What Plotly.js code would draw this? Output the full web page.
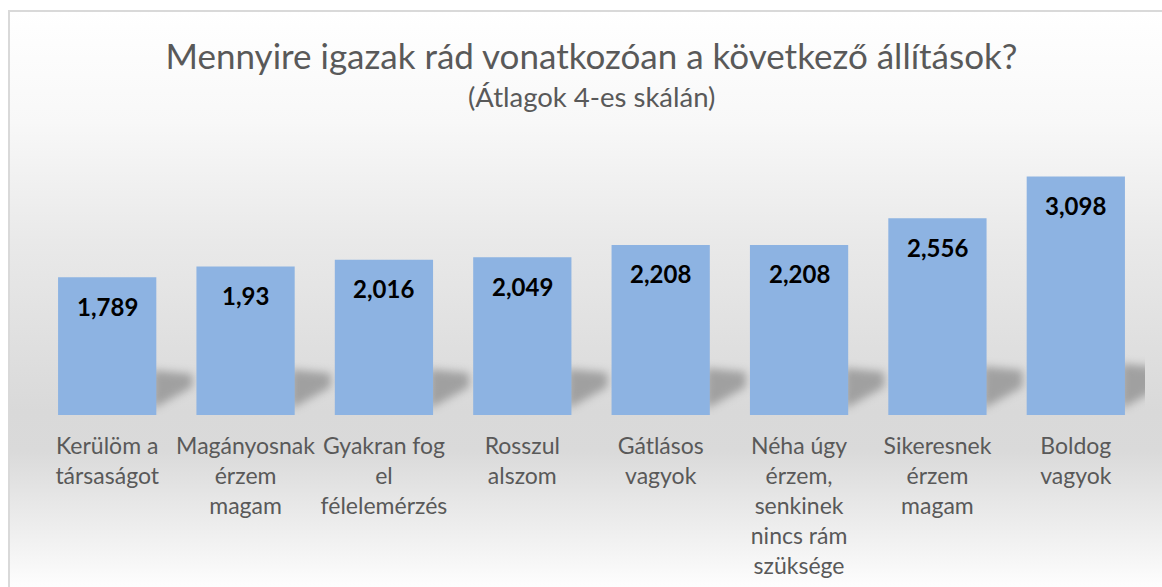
<!DOCTYPE html>
<html>
<head>
<meta charset="utf-8">
<script src="https://cdn.plot.ly/plotly-3.0.1.min.js"></script>
<style>
  html, body { margin: 0; padding: 0; background: #ffffff; overflow: hidden; width: 1162px; height: 587px; }
  #frame {
    position: absolute; left: 8px; top: 10px; width: 1154px; height: 577px;
    border-left: 2px solid #d9d9d9; border-top: 2px solid #d9d9d9;
    background: linear-gradient(to bottom, #ffffff 0px, #f8f8f8 110px, #e9e9e9 230px, #d9d9d9 400px, #dadada 440px, #f4f4f4 540px, #ffffff 580px);
  }
  #chart { position: absolute; left: 0; top: 0; width: 1162px; height: 587px; }
</style>
</head>
<body>
<div id="frame"></div>
<div id="chart"></div>
<script>
const categories = [
  "Kerülöm a<br>társaságot",
  "Magányosnak<br>érzem<br>magam",
  "Gyakran fog<br>el<br>félelemérzés",
  "Rosszul<br>alszom",
  "Gátlásos<br>vagyok",
  "Néha úgy<br>érzem,<br>senkinek<br>nincs rám<br>szüksége",
  "Sikeresnek<br>érzem<br>magam",
  "Boldog<br>vagyok"
];
const values = [1.789, 1.93, 2.016, 2.049, 2.208, 2.208, 2.556, 3.098];
const valueLabels = values.map(v => String(v).replace('.', ','));
const chartTitle = "Mennyire igazak rád vonatkozóan a következő állítások?";
const chartSubtitle = "(Átlagok 4-es skálán)";

const FONT = "Lato, 'Open Sans', sans-serif";
const BAR_COLOR = "#8db3e2";
const barWidth = 0.71;

const trace = {
  type: "bar",
  x: categories,
  y: values,
  width: barWidth,
  marker: { color: BAR_COLOR, line: { width: 0 } },
  hoverinfo: "skip",
  showlegend: false
};

const annotations = values.map((v, i) => ({
  x: categories[i], y: v, xref: "x", yref: "y",
  text: "<b>" + valueLabels[i] + "</b>",
  showarrow: false, yanchor: "middle", yshift: -29,
  font: { family: FONT, size: 24, color: "#000000" }
}));
annotations.push({
  text: chartSubtitle, xref: "paper", yref: "paper", x: 0.5, y: 1.178,
  yanchor: "middle", showarrow: false,
  font: { family: FONT, size: 27.5, color: "#595959" }
});

// soft shadows to the right of each bar (pixel-sized, blurred after render)
const shapes = [];
values.forEach((v, i) => {
  const h = 36 + v * 5;
  shapes.push({
    type: "path", layer: "below",
    xref: "x", yref: "y", xsizemode: "pixel", ysizemode: "pixel",
    xanchor: i + barWidth / 2, yanchor: 0,
    path: `M -4 6 L -4 ${h} L 36 ${h - 4} L 36 28 Z`,
    fillcolor: "#666666", opacity: 0.5, line: { width: 0 }
  });
});

const layout = {
  width: 1162, height: 587,
  margin: { l: 38, r: 17, t: 145, b: 172, pad: 0, autoexpand: false },
  paper_bgcolor: "rgba(0,0,0,0)",
  plot_bgcolor: "rgba(0,0,0,0)",
  bargap: 0.29,
  title: {
    text: chartTitle, x: 0.5, xref: "paper", y: 1 - 57 / 587, yref: "container",
    yanchor: "middle", xanchor: "center",
    font: { family: FONT, size: 35, color: "#595959" }
  },
  xaxis: {
    type: "category", range: [-0.5, categories.length - 0.5],
    showgrid: false, zeroline: false, showline: false,
    ticks: "", ticklabelstandoff: 15, automargin: false,
    tickfont: { family: FONT, size: 23, color: "#595959" },
    fixedrange: true
  },
  yaxis: {
    range: [0, 270 / 77], showgrid: false, zeroline: false, showline: false,
    showticklabels: false, ticks: "", fixedrange: true, automargin: false
  },
  annotations: annotations,
  shapes: shapes,
  font: { family: FONT }
};

Plotly.newPlot("chart", [trace], layout, { displayModeBar: false, staticPlot: true }).then(gd => {
  gd.querySelectorAll(".shapelayer path").forEach(p => { p.style.filter = "blur(4px)"; });
});
</script>
</body>
</html>
